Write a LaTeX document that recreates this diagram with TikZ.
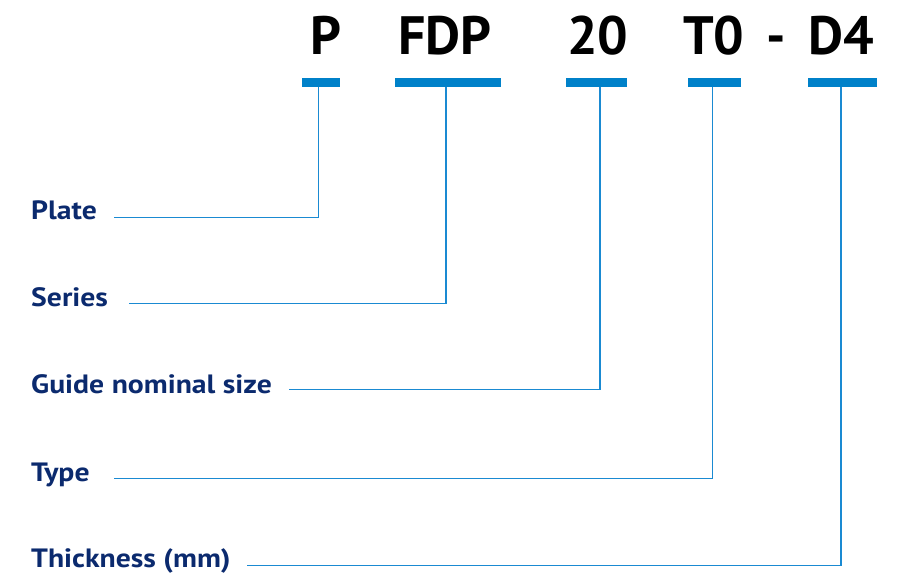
\documentclass[tikz,border=0pt]{standalone}
\usepackage{fontspec}
\setmainfont{PT Sans}
\newfontfamily\lblfont[FakeStretch=1.12]{PT Sans}
\definecolor{barblue}{HTML}{0081C9}
\definecolor{lineblue}{HTML}{1A8AD2}
\definecolor{navy}{HTML}{0B2A6E}
\begin{document}
\begin{tikzpicture}[x=1pt,y=-1pt,
  bigcode/.style={font=\bfseries\fontsize{54}{54}\selectfont, text=black, inner sep=0pt, anchor=base west},
  codebar/.style={fill=barblue, draw=none, minimum height=9pt, inner sep=0pt, anchor=north west},
  lbl/.style={font=\lblfont\bfseries\fontsize{26.5}{27}\selectfont, text=navy, inner sep=0pt, anchor=base west},
  conn/.style={draw=lineblue, line width=1.5pt}]
\useasboundingbox (0,0) rectangle (900,578);
% code letters
\node[bigcode] (tP) at (310,55) {P};
\node[bigcode] (tFDP) at (398,55) {FDP};
\node[bigcode] (t20) at (567,55) {20};
\node[bigcode] (tT0) at (683,55) {T0};
\node[bigcode] (tdash) at (766,55) {-};
\node[bigcode] (tD4) at (808,55) {D4};
% bars
\node[codebar, minimum width=38pt] (bP) at (302,78) {};
\node[codebar, minimum width=106pt] (bFDP) at (395,78) {};
\node[codebar, minimum width=61pt] (b20) at (566,78) {};
\node[codebar, minimum width=53pt] (bT0) at (688,78) {};
\node[codebar, minimum width=69pt] (bD4) at (808,78) {};
% labels
\node[lbl] (lP) at (31,219) {Plate};
\node[lbl] (lS) at (31,306) {Series};
\node[lbl] (lG) at (31,393) {Guide nominal size};
\node[lbl] (lT) at (31,481) {Type};
\node[lbl] (lK) at (31,567) {Thickness (mm)};
% line starts and corners
\coordinate (sP) at (114,217.3);
\coordinate (sS) at (129,303.3);
\coordinate (sG) at (289,389.3);
\coordinate (sT) at (114,478.3);
\coordinate (sK) at (247,565.3);
\coordinate (cP) at (318.7,217.3);
\coordinate (cS) at (446,303.3);
\coordinate (cG) at (600,389.3);
\coordinate (cT) at (712.7,478.3);
\coordinate (cK) at (841,565.3);
\draw[conn] (cP |- bP.south) -- (cP) -- (sP);
\draw[conn] (cS |- bFDP.south) -- (cS) -- (sS);
\draw[conn] (cG |- b20.south) -- (cG) -- (sG);
\draw[conn] (cT |- bT0.south) -- (cT) -- (sT);
\draw[conn] (cK |- bD4.south) -- (cK) -- (sK);
\end{tikzpicture}
\end{document}
